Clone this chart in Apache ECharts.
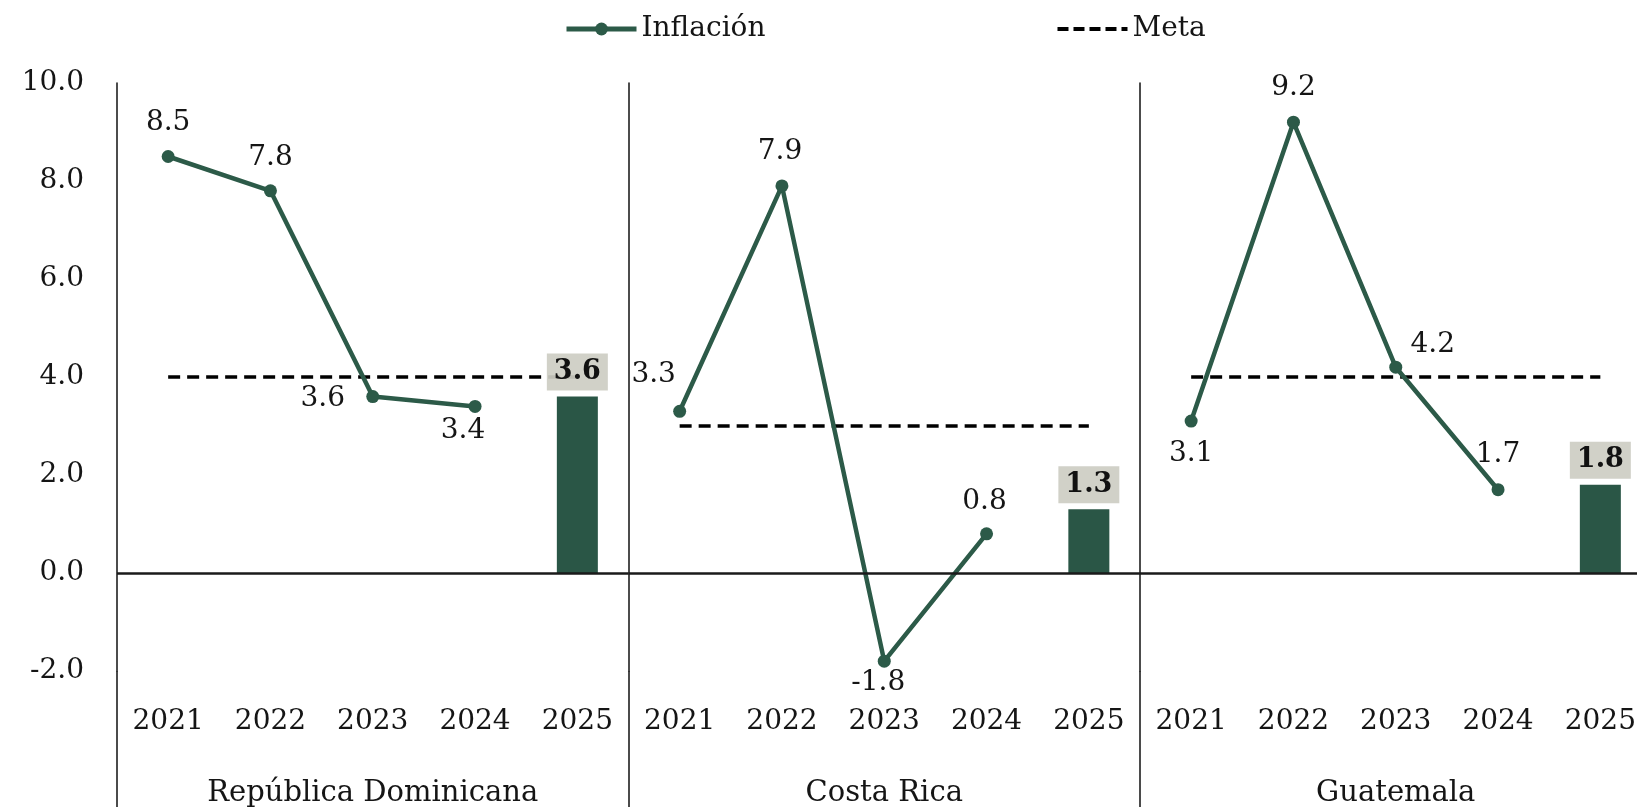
<!DOCTYPE html>
<html>
<head>
<meta charset="utf-8">
<title>Inflación vs Meta</title>
<script src="https://cdn.jsdelivr.net/npm/echarts@6/dist/echarts.min.js"></script>
<style>
    html, body { margin: 0; padding: 0; background: #fff; overflow: hidden; }
    /* el tercer panel sigue un poco fuera de la ventana, como en el original */
    #chart { width: 1660px; height: 807px; }
</style>
</head>
<body>
<div id="chart"></div>
<script>
// datos
const years = ['2021', '2022', '2023', '2024', '2025']
const countries = ['República Dominicana', 'Costa Rica', 'Guatemala']
const inflRD = [8.5, 7.8, 3.6, 3.4, null]
const inflCR = [3.3, 7.9, -1.8, 0.8, null]
const inflGT = [3.1, 9.2, 4.2, 1.7, null]
const proy2025 = [3.6, 1.3, 1.8]
const meta = [4.0, 3.0, 4.0]
const yMin = -2
const yMax = 10
const yStep = 2

const inflacion = [inflRD, inflCR, inflGT]

// posicion de etiquetas (px, relativo al punto)
const labelOffsets = [
    [[0, -34], [0, -33], [-50, 2], [-12, 24]],
    [[-26, -37], [-2, -34], [-6, 22], [-2, -32]],
    [[0, 33], [0, -34], [37, -22], [0, -35]]
]

const FONT = 'DejaVu Serif'
const GREEN = '#2c5a48'
const BAR = '#2a5646'
const TXT = '#151515'

const panelLeft = 117
const panelWidth = 511.5
const gridTop = 83
const gridBottom = 136

const grids = []
const xAxes = []
const yAxes = []
const series = []

countries.forEach(function (name, i) {
    grids.push({
        left: panelLeft + panelWidth * i,
        width: panelWidth,
        top: gridTop,
        bottom: gridBottom,
        outerBoundsMode: 'none',
        containLabel: false
    })
    xAxes.push({
        type: 'category',
        gridIndex: i,
        data: years,
        boundaryGap: true,
        axisLine: { show: false, onZero: false },
        axisTick: {
            show: true,
            interval: function (idx) { return idx === 0 },
            length: 140,
            lineStyle: { color: '#111', width: 1.5 }
        },
        axisLabel: {
            interval: 0,
            margin: 37,
            fontSize: 28,
            fontFamily: FONT,
            color: TXT
        },
        name: name,
        nameLocation: 'middle',
        nameGap: 108,
        nameTextStyle: { fontSize: 29, fontFamily: FONT, color: TXT },
        splitLine: { show: false }
    })
    yAxes.push({
        type: 'value',
        gridIndex: i,
        min: yMin,
        max: yMax,
        interval: yStep,
        axisLine: { show: true, lineStyle: { color: '#111', width: 1.5 } },
        axisTick: { show: false },
        splitLine: { show: false },
        axisLabel: {
            show: i === 0,
            margin: 33,
            fontSize: 28,
            fontFamily: FONT,
            color: TXT,
            formatter: function (v) { return v.toFixed(1) }
        }
    })

    // meta
    series.push({
        name: 'Meta',
        type: 'line',
        xAxisIndex: i,
        yAxisIndex: i,
        data: years.map(function () { return meta[i] }),
        symbol: 'none',
        lineStyle: { color: '#000', width: 3.5, type: [12, 7] },
        itemStyle: { color: '#000' },
        silent: true,
        z: 2
    })

    // barra 2025
    series.push({
        name: 'Proyección ' + name,
        type: 'bar',
        xAxisIndex: i,
        yAxisIndex: i,
        data: years.map(function (y, j) { return j === years.length - 1 ? proy2025[i] : null }),
        barWidth: 41,
        itemStyle: { color: BAR },
        label: {
            show: true,
            position: 'top',
            distance: 6,
            formatter: function (p) { return p.value.toFixed(1) },
            backgroundColor: 'rgba(205,205,195,0.92)',
            padding: [5, 7],
            fontSize: 27,
            fontWeight: 'bold',
            fontFamily: FONT,
            color: '#111'
        },
        z: 3
    })

    // inflacion
    series.push({
        name: 'Inflación',
        type: 'line',
        xAxisIndex: i,
        yAxisIndex: i,
        data: inflacion[i].map(function (v, j) {
            if (v === null) return null
            return { value: v, label: { offset: labelOffsets[i][j] } }
        }),
        symbol: 'circle',
        symbolSize: 13,
        lineStyle: { color: GREEN, width: 4.5 },
        itemStyle: { color: GREEN },
        label: {
            show: true,
            position: 'inside',
            formatter: function (p) { return p.value.toFixed(1) },
            fontSize: 28,
            fontFamily: FONT,
            color: TXT
        },
        markLine: {
            silent: true,
            symbol: 'none',
            label: { show: false },
            lineStyle: { color: '#1a1a1a', width: 2.5, type: 'solid' },
            data: [{ yAxis: 0 }]
        },
        z: 4
    })
})

const option = {
    animation: false,
    backgroundColor: '#fff',
    legend: {
        data: [
            { name: 'Inflación', lineStyle: { width: 5 } },
            { name: 'Meta', itemStyle: { opacity: 0 }, lineStyle: { width: 4, type: [11, 5] } }
        ],
        left: 559,
        top: 10,
        itemWidth: 70,
        itemHeight: 16,
        itemGap: 290,
        textStyle: { fontSize: 28, fontFamily: FONT, color: TXT }
    },
    grid: grids,
    xAxis: xAxes,
    yAxis: yAxes,
    series: series
}

const chart = echarts.init(document.getElementById('chart'))
chart.setOption(option)
window.addEventListener('resize', function () { chart.resize() })
</script>
</body>
</html>
